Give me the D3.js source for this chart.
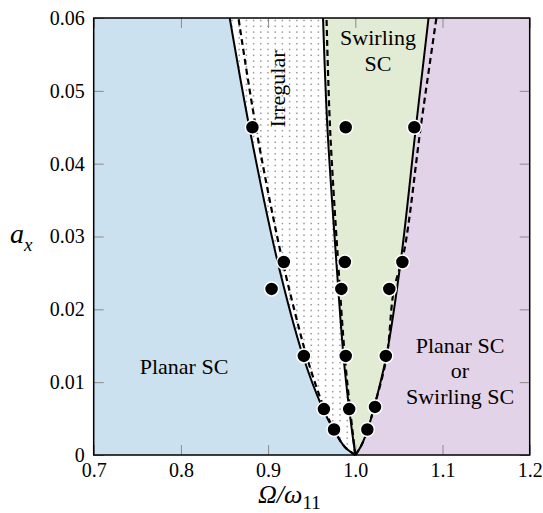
<!DOCTYPE html>
<html>
<head>
<meta charset="utf-8">
<script src="https://cdn.jsdelivr.net/npm/d3@7"></script>
<style>
  html, body { margin: 0; padding: 0; background: #ffffff; }
  svg { display: block; }
</style>
</head>
<body>
<svg id="chart" width="543" height="513"></svg>
<script>
// ---------- data (x = Ω/ω11, y = a_x) ----------
const xTicks = [0.7, 0.8, 0.9, 1.0, 1.1, 1.2];
const xTickLabels = ["0.7", "0.8", "0.9", "1.0", "1.1", "1.2"];
const yTicks = [0, 0.01, 0.02, 0.03, 0.04, 0.05, 0.06];
const yTickLabels = ["0", "0.01", "0.02", "0.03", "0.04", "0.05", "0.06"];

// boundaries, ordered from bottom (a_x = 0) to top
const leftSolid   = [[1.0, 0], [0.988, 0.0011], [0.975, 0.0035], [0.963, 0.0063], [0.94, 0.0136], [0.91, 0.027], [0.8785, 0.045], [0.856, 0.06]];
const leftDashed  = [[1.0, 0], [0.988, 0.0011], [0.976, 0.0034], [0.965, 0.0062], [0.946, 0.0128], [0.935, 0.0176], [0.914, 0.028], [0.886, 0.045], [0.866, 0.06]];
const midSolid    = [[1.0, 0], [0.993, 0.0063], [0.9865, 0.0135], [0.978, 0.027], [0.968, 0.045], [0.963, 0.06]];
const midDashed   = [[1.0, 0], [0.994, 0.0063], [0.988, 0.0135], [0.980, 0.027], [0.971, 0.045], [0.967, 0.06]];
const rightSolid  = [[1.0, 0], [1.006, 0.0011], [1.014, 0.0034], [1.021, 0.0063], [1.0355, 0.0135], [1.052, 0.0265], [1.0695, 0.045], [1.084, 0.06]];
const rightDashed = [[1.0, 0], [1.006, 0.0011], [1.014, 0.0034], [1.021, 0.0063], [1.036, 0.0135], [1.044, 0.0225], [1.056, 0.028], [1.075, 0.045], [1.093, 0.06]];

// simulation points
const pointsX = [0.882, 0.989, 1.0677, 0.918, 0.988, 1.054, 0.904, 0.984, 1.039, 0.941, 0.989, 1.035, 0.964, 0.993, 1.0226, 0.9756, 1.0138];
const pointsY = [0.045, 0.045, 0.045, 0.0265, 0.0265, 0.0265, 0.0228, 0.0228, 0.0228, 0.0136, 0.0136, 0.0136, 0.0063, 0.0063, 0.0066, 0.0035, 0.0035];

const regionColors = { planar: "#cbe1f0", irregular: "#ffffff", swirling: "#e2ecd5", either: "#e3d3e9" };

// ---------- drawing ----------
const F = "Liberation Serif";
const svg = d3.select("#chart");
const L = 93.7, R = 529.7, T = 18, B = 455;
const x = d3.scaleLinear().domain([0.7, 1.2]).range([L, R]);
const y = d3.scaleLinear().domain([0, 0.06]).range([B, T]);

const line = d3.line().x(d => x(d[0])).y(d => y(d[1])).curve(d3.curveCatmullRom.alpha(0.5));
const leftClose = " L" + x(0.7) + "," + y(0.06) + " L" + x(0.7) + "," + y(0) + " Z";

svg.append("rect").attr("x", x(0.7)).attr("y", y(0.06)).attr("width", x(1.2) - x(0.7)).attr("height", y(0) - y(0.06))
  .attr("fill", regionColors.either);
svg.append("path").attr("d", line(rightSolid) + leftClose).attr("fill", regionColors.swirling);
const irrPath = svg.append("path").attr("d", line(midSolid) + leftClose).attr("fill", regionColors.irregular);

// gray dot texture inside the irregular region (between left and middle solid boundaries)
const poly = [...leftSolid.map(d => [x(d[0]), y(d[1])]), ...midSolid.slice().reverse().map(d => [x(d[0]), y(d[1])])];
const tex = [];
for (let py = T + 2.5; py < B; py += 5.8) {
  for (let px = L + 1.5; px < R; px += 7.2) {
    if (d3.polygonContains(poly, [px, py])) tex.push([px, py]);
  }
}
svg.append("g").selectAll("rect").data(tex).join("rect")
  .attr("x", d => d[0] - 0.75).attr("y", d => d[1] - 0.75).attr("width", 1.5).attr("height", 1.5).attr("fill", "#9a9a9a");

svg.append("path").attr("d", line(leftSolid) + leftClose).attr("fill", regionColors.planar);

// ticks (inward on all sides)
const tickCol = "#8a8a8a";
const gB = svg.append("g").attr("transform", `translate(0,${B})`)
  .call(d3.axisBottom(x).tickValues(xTicks).tickSize(-10).tickPadding(8).tickFormat((d, i) => xTickLabels[i]));
const gT = svg.append("g").attr("transform", `translate(0,${T})`)
  .call(d3.axisTop(x).tickValues(xTicks).tickSize(-10).tickFormat(""));
const gL = svg.append("g").attr("transform", `translate(${L},0)`)
  .call(d3.axisLeft(y).tickValues(yTicks).tickSize(-10).tickPadding(9).tickFormat((d, i) => yTickLabels[i]));
const gR = svg.append("g").attr("transform", `translate(${R},0)`)
  .call(d3.axisRight(y).tickValues(yTicks).tickSize(-10).tickFormat(""));
[gB, gT, gL, gR].forEach(g => {
  g.select(".domain").remove();
  g.selectAll(".tick line").attr("stroke", tickCol).attr("stroke-width", 1);
  g.selectAll(".tick text").attr("font-size", 20).style("font-family", F);
});

// boundary curves
const curveG = svg.append("g").attr("fill", "none").attr("stroke", "#000");
[leftSolid, midSolid, rightSolid].forEach(c => curveG.append("path").attr("d", line(c)).attr("stroke-width", 2));
[leftDashed, midDashed, rightDashed].forEach(c => curveG.append("path").attr("d", line(c)).attr("stroke-width", 2.2).attr("stroke-dasharray", "6,4"));

// frame
svg.append("rect").attr("x", L).attr("y", T).attr("width", R - L).attr("height", B - T)
  .attr("fill", "none").attr("stroke", "#000").attr("stroke-width", 1.5);

// points
svg.append("g").selectAll("circle").data(pointsX.map((v, i) => [v, pointsY[i]])).join("circle")
  .attr("cx", d => x(d[0])).attr("cy", d => y(d[1])).attr("r", 7)
  .attr("fill", "#000").attr("stroke", "#fff").attr("stroke-width", 1.5);

// region labels
const lab = (txt, cx, cy) => svg.append("text").attr("x", cx).attr("y", cy).attr("text-anchor", "middle")
  .attr("font-size", 22).style("font-family", F).text(txt);
lab("Planar SC", 184, 374);
lab("Swirling", 378, 45);
lab("SC", 378, 71);
lab("Planar SC", 460, 353);
lab("or", 460, 378);
lab("Swirling SC", 460, 404);
svg.append("text").attr("transform", "translate(285,89) rotate(-90)").attr("text-anchor", "middle")
  .attr("font-size", 22).style("font-family", F).text("Irregular");

// axis titles
const yt = svg.append("text").attr("x", 10).attr("y", 243).attr("font-size", 28).attr("font-style", "italic").style("font-family", F);
yt.append("tspan").text("a");
yt.append("tspan").attr("font-size", 19).attr("dy", 8).text("x");

const xt = svg.append("text").attr("x", 258).attr("y", 503).attr("font-size", 26).style("font-family", F);
xt.append("tspan").attr("font-style", "italic").text("Ω/ω");
xt.append("tspan").attr("font-size", 19).attr("dy", 6).text("11");
</script>
</body>
</html>
